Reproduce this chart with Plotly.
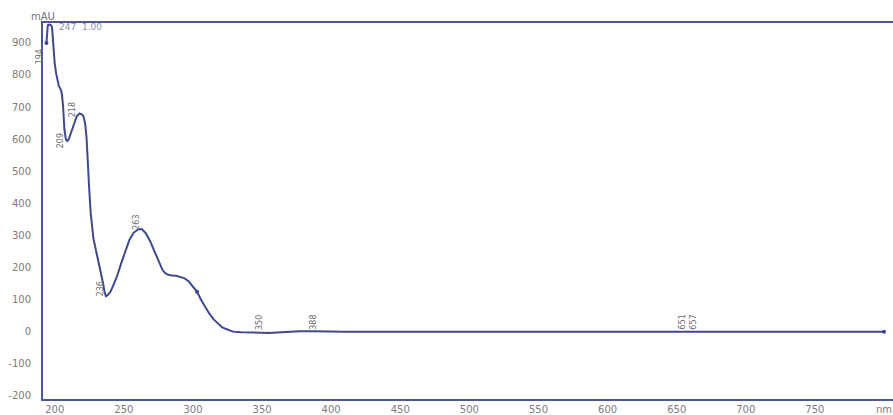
import numpy as np
import plotly.graph_objects as go

# UV absorbance spectrum (DAD), wavelength in nm, absorbance in mAU
wavelength = [194, 195, 196, 197, 198, 199, 200, 201, 202, 203, 204, 205, 206, 207, 208,
              209, 210, 212, 214, 216, 218, 220, 221, 222, 223, 224, 225, 226, 227, 228,
              230, 232, 234, 235, 236, 237, 238, 240, 242, 245, 248, 251, 254, 257, 260,
              263, 266, 269, 272, 275, 278, 280, 282, 285, 288, 291, 294, 297, 300, 303,
              306, 309, 312, 315, 318, 321, 324, 327, 329, 335, 341, 348, 355, 361, 368,
              377, 387, 395, 410, 430, 460, 500, 540, 580, 620, 651, 657, 690, 730, 770, 800]
absorbance = [900, 955, 957, 956, 950, 885, 835, 805, 780, 765, 758, 746, 705, 630, 600,
              594, 598, 625, 652, 672, 680, 676, 668, 648, 605, 540, 440, 370, 320, 290,
              250, 212, 172, 150, 124, 111, 113, 122, 140, 172, 212, 250, 286, 308, 318,
              320, 306, 282, 252, 222, 192, 182, 177, 175, 174, 170, 166, 156, 140, 124,
              98, 76, 55, 38, 25, 14, 8, 3, 0, -2, -3, -4, -4, -3, -1,
              1, 1.5, 0.5, 0, -0.5, 0, 0.5, 0, -0.5, 0, 1, 1, 0, 0, 0, 0]

# Peak / valley labels
peak_nm = [194, 209, 218, 236, 263, 350, 388, 651, 657]
peak_text = ["194", "209", "218", "236", "263", "350", "388", "651", "657"]
# pixel offsets of each rotated label from its point on the curve
label_dx = [-7, -7, -7, -4, -5, -2, -1, 4, 7]
label_dy = [-14, 0, 4, 3, 7, 10, 9, 9, 9]

# Points carrying a small marker on the trace
marker_nm = [194, 303, 800]

x_ticks = [200, 250, 300, 350, 400, 450, 500, 550, 600, 650, 700, 750, 800]
x_ticktext = ["200", "250", "300", "350", "400", "450", "500", "550", "600", "650", "700", "750", "nm"]
y_ticks = [900, 800, 700, 600, 500, 400, 300, 200, 100, 0, -100, -200]
y_ticktext = ["900", "800", "700", "600", "500", "400", "300", "200", "100", "0", "-100", "-200"]

LINE = "#3d4a8e"
FRAME = "#4c5896"
TEXT = "#7c7c7c"
FONT = "DejaVu Sans"

fig = go.Figure()
fig.add_trace(go.Scatter(
    x=wavelength, y=absorbance, mode="lines",
    line=dict(color=LINE, width=2), hoverinfo="skip", showlegend=False,
))
marker_y = np.interp(marker_nm, wavelength, absorbance)
fig.add_trace(go.Scatter(
    x=marker_nm, y=marker_y, mode="markers",
    marker=dict(color=LINE, size=4), hoverinfo="skip", showlegend=False,
))

label_y = np.interp(peak_nm, wavelength, absorbance)
for nm, val, txt, dx, dy in zip(peak_nm, label_y, peak_text, label_dx, label_dy):
    fig.add_annotation(
        x=nm, y=val, text=txt, showarrow=False, textangle=-90,
        xshift=dx, yshift=dy, xanchor="center", yanchor="middle",
        font=dict(family=FONT, size=8, color="#6a6a6a"),
    )

fig.add_annotation(
    x=0.0, y=1.0185, xref="paper", yref="paper", text="mAU", showarrow=False,
    xanchor="center", yanchor="middle", font=dict(family=FONT, size=10, color="#6f6f7f"),
)
fig.add_annotation(
    x=0.017, y=0.989, xref="paper", yref="paper", text="247  1.00", showarrow=False,
    xanchor="left", yanchor="middle", font=dict(family=FONT, size=9, color="#8a8fa8"),
)

fig.update_layout(
    width=893, height=415,
    margin=dict(l=43, r=0, t=23, b=14),
    paper_bgcolor="white", plot_bgcolor="white",
    xaxis=dict(
        range=[191.5, 806.5], tickvals=x_ticks, ticktext=x_ticktext,
        showgrid=False, zeroline=False, showline=True, mirror=True,
        linecolor=FRAME, linewidth=1.5, ticks="",
        tickfont=dict(family=FONT, size=10, color=TEXT),
    ),
    yaxis=dict(
        range=[-210, 962], tickvals=y_ticks, ticktext=y_ticktext,
        showgrid=False, zeroline=False, showline=True, mirror=False,
        linecolor=FRAME, linewidth=2, ticks="", ticklabelstandoff=8,
        tickfont=dict(family=FONT, size=10, color=TEXT),
    ),
)

fig.write_html("out.html")
